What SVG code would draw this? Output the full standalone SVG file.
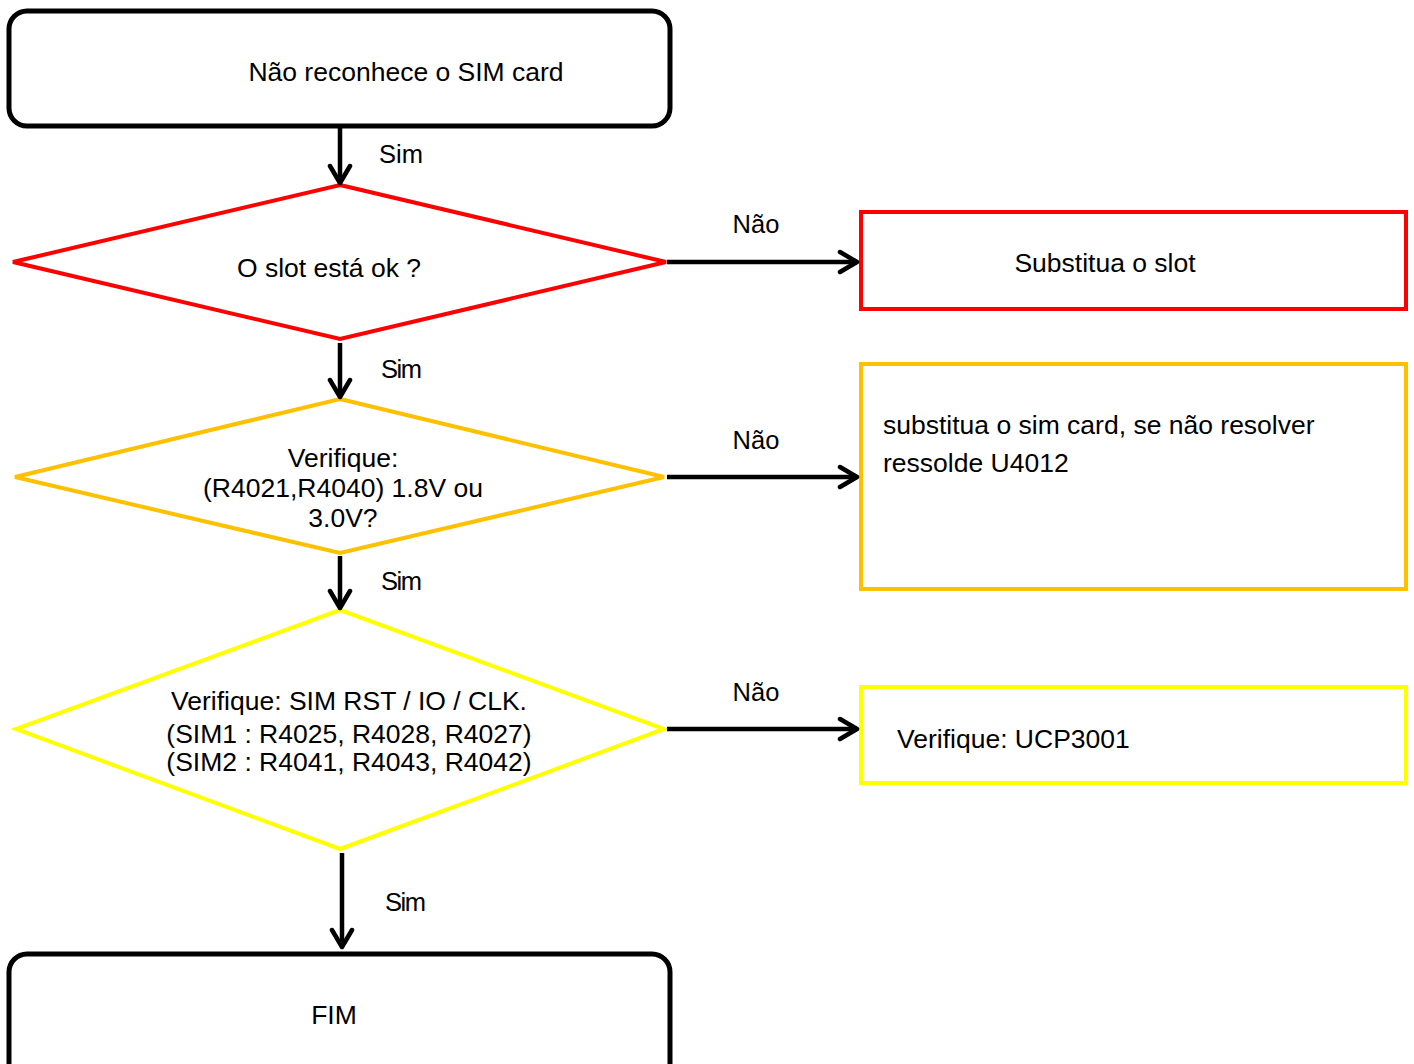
<svg xmlns="http://www.w3.org/2000/svg" width="1414" height="1064" viewBox="0 0 1414 1064">
<style>
text{font-family:"Liberation Sans",Arial,sans-serif;fill:#000}
.t{font-size:26.5px}
.lbl{font-size:25.5px}
.c{text-anchor:middle}
.term{fill:#fff;stroke:#000;stroke-width:5}
.conn{stroke:#000;stroke-width:4.5;fill:none}
</style>
<defs>
<marker id="arr" viewBox="0 0 24 26" refX="21" refY="13" markerWidth="24" markerHeight="26" markerUnits="userSpaceOnUse" orient="auto">
<path d="M4,3 L21,13 L4,23" fill="none" stroke="#000" stroke-width="4.5" stroke-linecap="round" stroke-linejoin="round"/>
</marker>
</defs>
<rect width="1414" height="1064" fill="#fff"/>
<g id="start">
<rect class="term" x="9" y="11" width="661" height="115" rx="18"/>
<text class="t c" x="406" y="81">Não reconhece o SIM card</text>
</g>
<g id="d1">
<polygon points="340,185 666,262 340,339 13,262" fill="#fff" stroke="#f00" stroke-width="4"/>
<text class="t c" x="329" y="277">O slot está ok ?</text>
</g>
<g id="r1">
<rect x="861" y="212" width="545" height="97" fill="#fff" stroke="#f00" stroke-width="4"/>
<text class="t c" x="1105" y="272">Substitua o slot</text>
</g>
<g id="d2">
<polygon points="340,399 664,477 340,553 15,477" fill="#fff" stroke="#ffc000" stroke-width="4"/>
<text class="t c" x="343" y="467">Verifique:</text>
<text class="t c" x="343" y="497">(R4021,R4040) 1.8V ou</text>
<text class="t c" x="343" y="527">3.0V?</text>
</g>
<g id="r2">
<rect x="861" y="364" width="545" height="225" fill="#fff" stroke="#ffc000" stroke-width="4"/>
<text class="t" x="883" y="434">substitua o sim card, se não resolver</text>
<text class="t" x="883" y="472">ressolde U4012</text>
</g>
<g id="d3">
<polygon points="340,610 664,729 340,849 16,729" fill="#fff" stroke="#ffff00" stroke-width="4"/>
<text class="t c" x="349" y="710">Verifique: SIM RST / IO / CLK.</text>
<text class="t c" x="349" y="743">(SIM1 : R4025, R4028, R4027)</text>
<text class="t c" x="349" y="771">(SIM2 : R4041, R4043, R4042)</text>
</g>
<g id="r3">
<rect x="861" y="687" width="545" height="96" fill="#fff" stroke="#ffff00" stroke-width="4"/>
<text class="t" x="897" y="748">Verifique: UCP3001</text>
</g>
<g id="end">
<rect class="term" x="9" y="954" width="661" height="130" rx="18"/>
<text class="t c" x="334" y="1024">FIM</text>
</g>
<g id="connectors">
<line class="conn" x1="340" y1="127" x2="340" y2="183" marker-end="url(#arr)"/>
<line class="conn" x1="340" y1="343" x2="340" y2="397" marker-end="url(#arr)"/>
<line class="conn" x1="340" y1="556" x2="340" y2="608" marker-end="url(#arr)"/>
<line class="conn" x1="342" y1="853" x2="342" y2="947" marker-end="url(#arr)"/>
<line class="conn" x1="667" y1="262" x2="857" y2="262" marker-end="url(#arr)"/>
<line class="conn" x1="667" y1="477" x2="857" y2="477" marker-end="url(#arr)"/>
<line class="conn" x1="667" y1="729" x2="857" y2="729" marker-end="url(#arr)"/>
<text class="lbl" x="379" y="163">Sim</text>
<text class="lbl" x="381" y="378" letter-spacing="-1.5">Sim</text>
<text class="lbl" x="381" y="590" letter-spacing="-1.5">Sim</text>
<text class="lbl" x="385" y="911" letter-spacing="-1.5">Sim</text>
<text class="lbl c" x="756" y="233">Não</text>
<text class="lbl c" x="756" y="449">Não</text>
<text class="lbl c" x="756" y="701">Não</text>
</g>
</svg>
